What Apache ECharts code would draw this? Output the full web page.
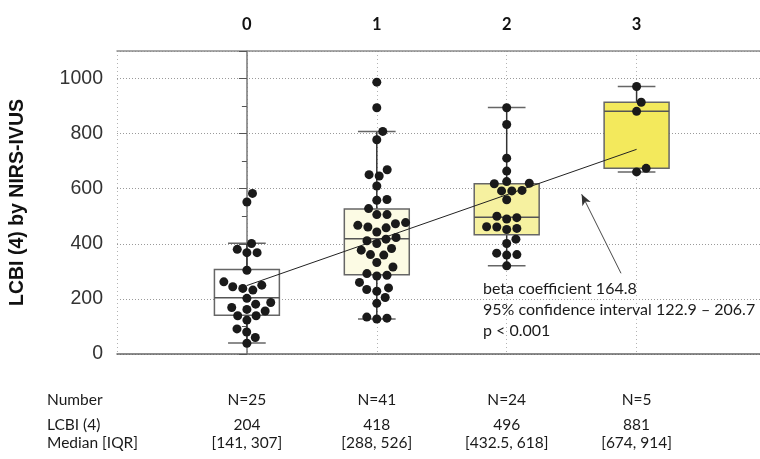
<!DOCTYPE html>
<html><head><meta charset="utf-8">
<script src="https://cdn.jsdelivr.net/npm/echarts@6/dist/echarts.min.js"></script>
<style>html,body{margin:0;padding:0;background:#fff}#c{width:760px;height:459px}</style>
</head><body><div id="c"></div>
<script>
// ---- data ----
const categories = ['0', '1', '2', '3'];
const counts = [25, 41, 24, 5];
const medianLabels = ['204', '418', '496', '881'];
const iqrLabels = ['[141, 307]', '[288, 526]', '[432.5, 618]', '[674, 914]'];
const q1 = [141, 288, 432.5, 674];
const median = [204, 418, 496, 881];
const q3 = [307, 526, 618, 914];
const whiskerLow = [40, 127, 320, 661];
const whiskerHigh = [402, 808, 895, 971];
const group0 = [583, 552, 401, 380, 368, 368, 304, 262, 250, 244, 238, 232, 202, 187, 181, 169, 162, 156, 139, 139, 123, 91, 80, 60, 39];
const group1 = [987, 894, 808, 778, 669, 651, 646, 610, 561, 558, 528, 506, 506, 477, 473, 467, 461, 458, 443, 423, 417, 411, 401, 383, 377, 361, 359, 332, 316, 292, 286, 283, 260, 240, 234, 228, 205, 184, 134, 130, 127];
const group2 = [894, 833, 711, 664, 626, 620, 618, 594, 592, 592, 560, 500, 495, 490, 462, 461, 456, 452, 417, 401, 366, 361, 359, 320];
const group3 = [971, 914, 881, 674, 661];
const groups = [group0, group1, group2, group3];
const rowHeaders = ['Number', 'LCBI (4)', 'Median [IQR]'];
const regIntercept = 248.6;
const regBeta = 164.8;
const arrowFrom = [2.88, 293];
const arrowTo = [2.577, 580];
const annotation = ['beta coefficient 164.8', '95% confidence interval 122.9 \u2013 206.7', 'p < 0.001'];

// ---- styles ----
const boxFills = ['#ffffff', '#fcfbe4', '#f6f1a0', '#f3e95c'];
const TXT = 'Lato, "Open Sans", sans-serif';
const HEL = '"Liberation Sans", Arial, sans-serif';
const dotted = [1, 2];

const chart = echarts.init(document.getElementById('c'), null, {renderer: 'canvas'});

const boxData = categories.map((c, i) => [i, whiskerLow[i], q1[i], median[i], q3[i], whiskerHigh[i]]);

function isCat(v) { return Math.abs(v - Math.round(v)) < 1e-6 && v >= 0 && v < categories.length; }

const option = {
  animation: false,
  backgroundColor: '#fff',
  grid: {left: 117, right: 0, top: 51, bottom: 105, outerBoundsMode: 'none', containLabel: false},
  xAxis: [{
    type: 'value', min: -1, max: 3.95, interval: 1, position: 'bottom',
    axisLine: {show: true, onZero: false, lineStyle: {color: '#666', width: 1.5}},
    axisTick: {show: false},
    splitLine: {show: true, lineStyle: {color: '#b3b3b3', width: 1, type: [1, 3]}},
    axisLabel: {
      show: true, margin: 30, showMinLabel: true, showMaxLabel: true,
      formatter: v => {
        if (!isCat(v)) return '';
        const i = Math.round(v);
        return '{n|N=' + counts[i] + '}\n{m|' + medianLabels[i] + '}\n{q|' + iqrLabels[i] + '}';
      },
      rich: {
        n: {fontFamily: TXT, fontSize: 15.5, color: '#1a1a1a', lineHeight: 32},
        m: {fontFamily: TXT, fontSize: 15.5, color: '#1a1a1a', lineHeight: 18},
        q: {fontFamily: TXT, fontSize: 15.5, color: '#1a1a1a', lineHeight: 18}
      }
    }
  }, {
    type: 'value', min: -1, max: 3.95, interval: 1, position: 'top',
    axisLine: {show: true, onZero: false, lineStyle: {color: '#8c8c8c', width: 1.5}},
    axisTick: {show: false},
    splitLine: {show: false},
    axisLabel: {
      show: true, margin: 18,
      formatter: v => isCat(v) ? categories[Math.round(v)] : '',
      fontFamily: TXT, fontWeight: 'bold', fontSize: 16.5, color: '#111'
    }
  }],
  yAxis: {
    type: 'value', min: 0, max: 1100, interval: 200,
    name: 'LCBI (4) by NIRS-IVUS', nameLocation: 'middle', nameRotate: 90, nameGap: 89,
    nameTextStyle: {fontFamily: HEL, fontWeight: 'bold', fontSize: 19.5, color: '#111'},
    axisLine: {show: true, lineStyle: {color: '#777', width: 1.5}},
    axisTick: {show: true, length: 8, lineStyle: {color: '#555', width: 1}},
    minorTick: {show: true, splitNumber: 2, length: 5, lineStyle: {color: '#555', width: 1}},
    axisLabel: {margin: 14, fontFamily: HEL, fontSize: 19.5, color: '#333', showMaxLabel: false,
      formatter: v => String(v)},
    splitLine: {show: true, lineStyle: {color: '#9a9a9a', width: 1, type: dotted}}
  },
  graphic: [
    ...rowHeaders.map((t, i) => ({
      type: 'text', x: 47, y: [400, 425, 443][i], silent: true,
      style: {text: t, fontFamily: TXT, fontSize: 15.5, fill: '#1a1a1a', verticalAlign: 'middle', align: 'left'}
    })),
    {
      type: 'text', x: 483, y: 278, silent: true, z: 10,
      style: {text: annotation.join('\n'), fontFamily: TXT, fontSize: 16, lineHeight: 21, fill: '#1a1a1a', verticalAlign: 'top', align: 'left'}
    }
  ],
  series: [{
    id: 'boxes', type: 'custom', z: 2,
    data: boxData,
    encode: {x: 0, y: [1, 2, 3, 4, 5]},
    renderItem: (params, api) => {
      const x = api.value(0);
      const lo = api.coord([x, api.value(1)]);
      const b1 = api.coord([x, api.value(2)]);
      const md = api.coord([x, api.value(3)]);
      const b3 = api.coord([x, api.value(4)]);
      const hi = api.coord([x, api.value(5)]);
      const bw = api.size([0.5, 0])[0];
      const cw = api.size([0.29, 0])[0];
      const cx = lo[0];
      const wl = {stroke: '#333', lineWidth: 1.5};
      const cl = {stroke: '#666', lineWidth: 1.5};
      return {type: 'group', children: [
        {type: 'line', shape: {x1: cx, y1: hi[1], x2: cx, y2: b3[1]}, style: wl},
        {type: 'line', shape: {x1: cx, y1: b1[1], x2: cx, y2: lo[1]}, style: wl},
        {type: 'line', shape: {x1: cx - cw / 2, y1: hi[1], x2: cx + cw / 2, y2: hi[1]}, style: cl},
        {type: 'line', shape: {x1: cx - cw / 2, y1: lo[1], x2: cx + cw / 2, y2: lo[1]}, style: cl},
        {type: 'rect', shape: {x: cx - bw / 2, y: b3[1], width: bw, height: b1[1] - b3[1]},
          style: {fill: boxFills[params.dataIndex], stroke: '#666', lineWidth: 1.5}},
        {type: 'line', shape: {x1: cx - bw / 2, y1: md[1], x2: cx + bw / 2, y2: md[1]}, style: {stroke: '#555', lineWidth: 1.5}}
      ]};
    }
  }, {
    id: 'reg', type: 'line', z: 3, symbol: 'none', silent: true,
    data: [[0, regIntercept], [categories.length - 1, regIntercept + regBeta * (categories.length - 1)]],
    lineStyle: {color: '#222', width: 1}
  }, {
    id: 'dots', type: 'scatter', z: 4, symbolSize: 9, silent: true,
    itemStyle: {color: '#1a1a1a', opacity: 1},
    data: []
  }, {
    id: 'arrow', type: 'line', z: 5, data: [], silent: true,
    markLine: {
      silent: true, symbol: ['none', 'arrow'], symbolSize: [7, 11],
      label: {show: false},
      lineStyle: {color: '#333', width: 0.9, type: 'solid'},
      emphasis: {disabled: true},
      data: [[{coord: arrowFrom}, {coord: arrowTo}]]
    }
  }]
};
chart.setOption(option);

// beeswarm layout in pixel space
const pyPerUnit = (chart.convertToPixel({yAxisIndex: 0}, 0) - chart.convertToPixel({yAxisIndex: 0}, 1000)) / 1000;
const pxPerUnit = chart.convertToPixel({xAxisIndex: 0}, 1) - chart.convertToPixel({xAxisIndex: 0}, 0);
const D = 10.2;
function swarm(values) {
  const order = values.map((v, i) => i).sort((a, b) => values[a] - values[b]);
  const placed = [];
  const out = new Array(values.length);
  order.forEach(i => {
    const y = values[i] * pyPerUnit;
    const cands = [0];
    placed.forEach(p => {
      const dy = Math.abs(p.y - y);
      if (dy < D) { const dx = Math.sqrt(D * D - dy * dy); cands.push(p.x + dx, p.x - dx); }
    });
    cands.sort((a, b) => Math.abs(a) - Math.abs(b));
    let best = 0;
    for (const c of cands) {
      if (placed.every(p => (p.x - c) * (p.x - c) + (p.y - y) * (p.y - y) >= D * D - 1e-6)) { best = c; break; }
    }
    placed.push({x: best, y: y});
    out[i] = best;
  });
  return out;
}
const dots = [];
groups.forEach((g, gi) => {
  const offs = swarm(g);
  g.forEach((v, k) => dots.push([gi + offs[k] / pxPerUnit, v]));
});
chart.setOption({series: [{id: 'dots', data: dots}]});
</script></body></html>
